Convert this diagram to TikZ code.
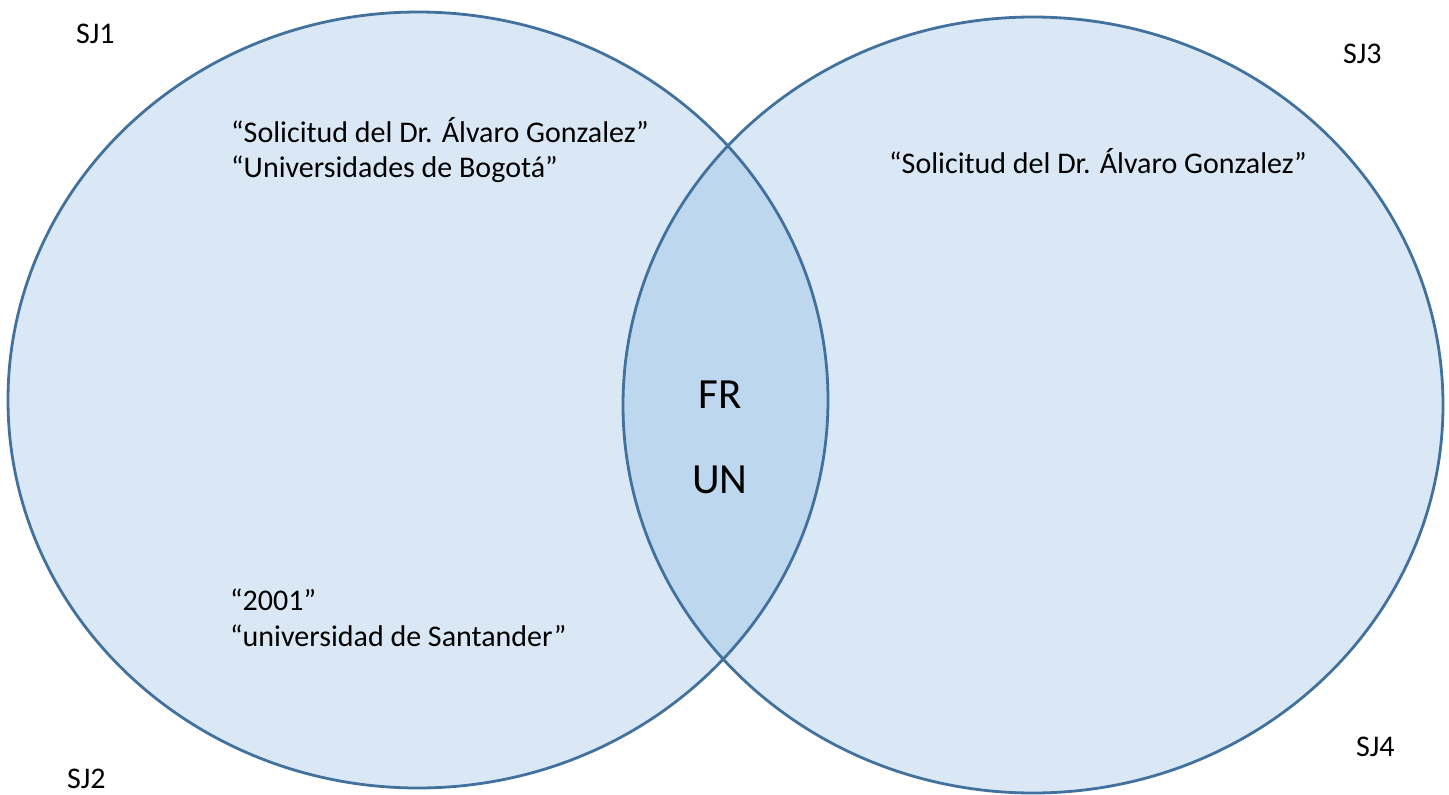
\documentclass[tikz,border=0pt]{standalone}
\usepackage{fontspec}
\setmainfont{Carlito}
\definecolor{vfill}{HTML}{DAE8F5}
\definecolor{vover}{HTML}{BDD7EE}
\definecolor{vline}{HTML}{41719C}
\begin{document}
\begin{tikzpicture}[x=1pt,y=-1pt,
  lbl/.style={inner sep=0pt,anchor=base west,font=\fontsize{30}{36}\selectfont},
  big/.style={inner sep=0pt,anchor=base,font=\fontsize{43}{50}\selectfont},
  ring/.style={draw=vline,line width=2.8pt}]
\useasboundingbox (0,0) rectangle (1449,795);
\coordinate (cl) at (418,400);
\coordinate (cr) at (1033,405);
% fills
\fill[vfill] (cl) ellipse [x radius=410, y radius=388];
\fill[vfill] (cr) ellipse [x radius=410, y radius=388];
\begin{scope}
  \clip (cl) ellipse [x radius=410, y radius=388];
  \fill[vover] (cr) ellipse [x radius=410, y radius=388];
\end{scope}
% outlines
\draw[ring] (cl) ellipse [x radius=410, y radius=388];
\draw[ring] (cr) ellipse [x radius=410, y radius=388];
% corner labels
\node[lbl] (sj1) at (76,43) {SJ1};
\node[lbl] (sj2) at (67,788) {SJ2};
\node[lbl] (sj3) at (1343,63) {SJ3};
\node[lbl] (sj4) at (1356,756) {SJ4};
% left texts
\node[lbl] (t1) at (231,142) {“Solicitud del Dr. Álvaro Gonzalez”};
\node[lbl] (t2) at (231,177) {“Universidades de Bogotá”};
\node[lbl] (t3) at (230,610) {“2001”};
\node[lbl] (t4) at (230,646) {“universidad de Santander”};
% right text
\node[lbl] (t5) at (889,173) {“Solicitud del Dr. Álvaro Gonzalez”};
% intersection
\node[big] (fr) at (720,408) {FR};
\node[big] (un) at (720,493) {UN};
\end{tikzpicture}
\end{document}
